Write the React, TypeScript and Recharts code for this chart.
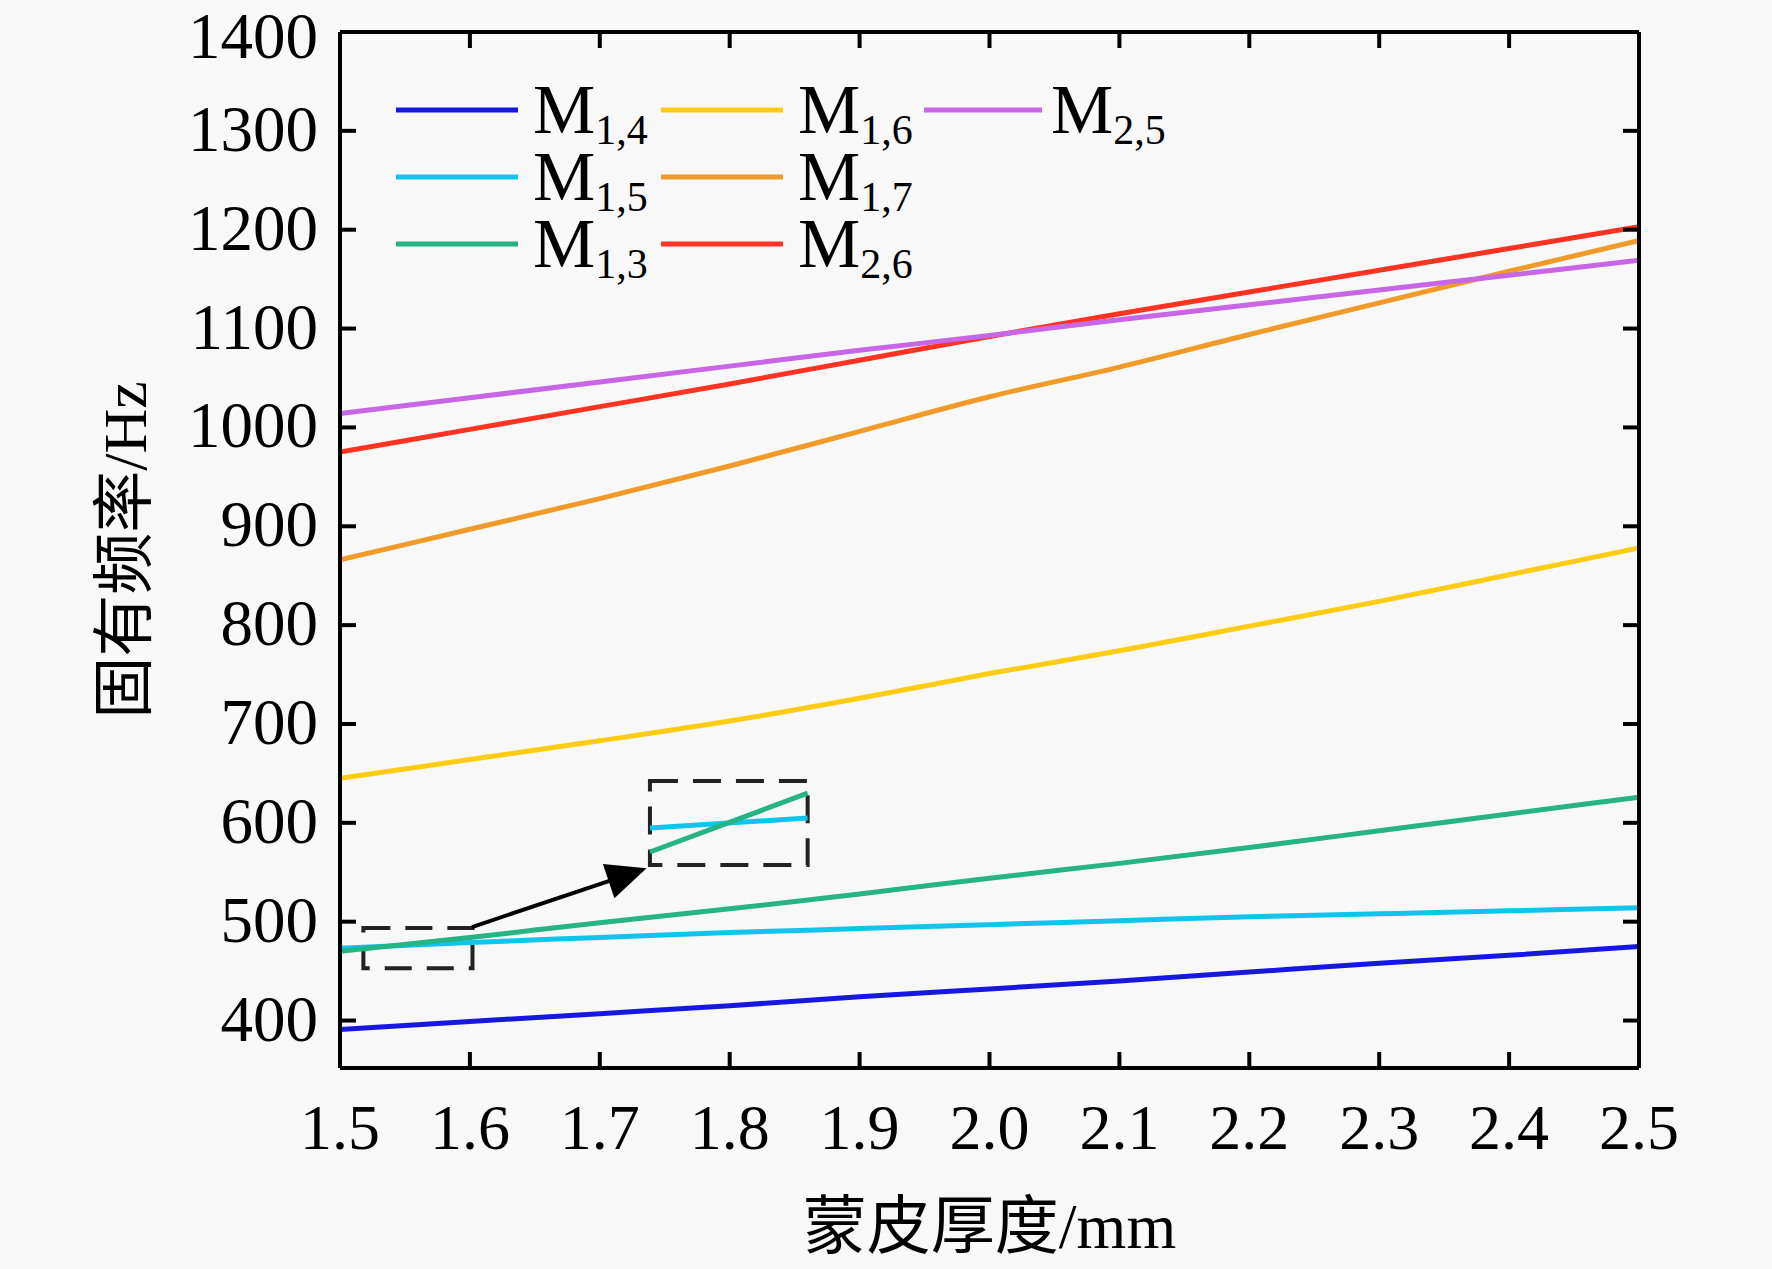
import React from 'react';
import { LineChart, Line, XAxis, YAxis, ReferenceArea, ReferenceLine, Legend } from 'recharts';

const thickness = [1.5, 1.6, 1.7, 1.8, 1.9, 2.0, 2.1, 2.2, 2.3, 2.4, 2.5];
const m14 = [391, 399, 407, 415, 424, 432, 440, 449, 458, 466, 475];
const m15 = [473, 479, 484, 489, 493, 497, 501, 505, 508, 511, 514];
const m13 = [470, 484, 499, 513, 528, 544, 559, 575, 592, 609, 626];
const m16 = [645, 664, 683, 703, 726, 751, 774, 799, 824, 851, 878];
const m17 = [866, 897, 928, 961, 996, 1031, 1061, 1094, 1126, 1158, 1189];
const m26 = [975, 998, 1021, 1044, 1068, 1092, 1115, 1137, 1159, 1181, 1203];
const m25 = [1014, 1030, 1046, 1062, 1078, 1093, 1109, 1124, 1139, 1154, 1169];

const xTicks = [1.5, 1.6, 1.7, 1.8, 1.9, 2.0, 2.1, 2.2, 2.3, 2.4, 2.5];
const xInnerTicks = [1.6, 1.7, 1.8, 1.9, 2.0, 2.1, 2.2, 2.3, 2.4];
const yTicks = [400, 500, 600, 700, 800, 900, 1000, 1100, 1200, 1300, 1400];
const yInnerTicks = [400, 500, 600, 700, 800, 900, 1000, 1100, 1200, 1300];

// zoom annotation
const smallBoxX = [1.518, 1.602];
const smallBoxY = [453, 493.6];
const bigBoxX = [1.7386, 1.86];
const bigBoxY = [557.3, 642.3];
const arrowX = [1.6016, 1.736];
const arrowY = [494.6, 554];
const insetX = [1.7386, 1.86];
const insetCyan = [594.7, 604.9];
const insetGreen = [570.5, 630];

const seriesKeys = ['m14', 'm15', 'm13', 'm16', 'm17', 'm26', 'm25'];
const seriesSubs = ['1,4', '1,5', '1,3', '1,6', '1,7', '2,6', '2,5'];
const seriesColors = ['#1717e0', '#10c4ec', '#26b386', '#ffcc14', '#f09a2a', '#ff3322', '#c866e6'];
const seriesValues = [m14, m15, m13, m16, m17, m26, m25];

const data = thickness.map((t, i) => {
  const row: any = { t };
  seriesKeys.forEach((k, j) => {
    row[k] = seriesValues[j][i];
  });
  return row;
});

const insetCyanData = insetX.map((x, i) => ({ t: x, v: insetCyan[i] }));
const insetGreenData = insetX.map((x, i) => ({ t: x, v: insetGreen[i] }));

const FONT = '"Liberation Serif", "Times New Roman", "Noto Sans CJK SC", serif';

const EmptyTick = () => <g />;

const ArrowShape = (props: any) => {
  const { x1, y1, x2, y2 } = props;
  const dx = x2 - x1;
  const dy = y2 - y1;
  const len = Math.sqrt(dx * dx + dy * dy) || 1;
  const ux = dx / len;
  const uy = dy / len;
  const headLen = 40;
  const halfW = 18;
  const bx = x2 - ux * headLen;
  const by = y2 - uy * headLen;
  const px = -uy;
  const py = ux;
  const pts = `${x2},${y2} ${bx + px * halfW},${by + py * halfW} ${bx - px * halfW},${by - py * halfW}`;
  return (
    <g>
      <line x1={x1} y1={y1} x2={bx + ux * 4} y2={by + uy * 4} stroke="#000" strokeWidth={4} />
      <polygon points={pts} fill="#000" />
    </g>
  );
};

const LegendContent = (props: any) => {
  const payload = props.payload || [];
  const ordered = seriesSubs
    .map((s) => payload.find((p: any) => p.value === `M${s}`))
    .filter(Boolean);
  return (
    <div
      style={{
        display: 'grid',
        gridTemplateRows: 'repeat(3, 67px)',
        gridTemplateColumns: '265px 263px 320px',
        gridAutoFlow: 'column',
        fontFamily: FONT,
      }}
    >
      {ordered.map((p: any, idx: number) => (
        <div key={p.value} style={{ display: 'flex', alignItems: 'center', height: 67 }}>
          <svg
            width={idx === 6 ? 118 : 122}
            height={10}
            style={{ marginRight: idx === 6 ? 9 : 15, display: 'block', flexShrink: 0 }}
          >
            <line x1={0} y1={5} x2={122} y2={5} stroke={p.color} strokeWidth={5} />
          </svg>
          <span style={{ fontSize: 70, lineHeight: '70px', color: '#000', whiteSpace: 'nowrap', flexShrink: 0 }}>
            M
            <span style={{ fontSize: 42, lineHeight: '42px', position: 'relative', top: 11 }}>
              {String(p.value).slice(1)}
            </span>
          </span>
        </div>
      ))}
    </div>
  );
};

const XTitle = (props: any) => {
  const vb = props.viewBox || { x: 340, y: 1068, width: 1299, height: 100 };
  return (
    <text x={vb.x + vb.width / 2} y={vb.y + 180} textAnchor="middle" fontSize={64} fontFamily={FONT} fill="#000">
      蒙皮厚度/mm
    </text>
  );
};

const YTitle = (props: any) => {
  const vb = props.viewBox || { x: 0, y: 32, width: 340, height: 1036 };
  const cx = vb.x + 125;
  const cy = vb.y + vb.height / 2;
  return (
    <text
      x={cx}
      y={cy}
      transform={`rotate(-90 ${cx} ${cy})`}
      textAnchor="middle"
      dominantBaseline="central"
      fontSize={62}
      fontFamily={FONT}
      fill="#000"
    >
      固有频率/Hz
    </text>
  );
};

const axisLine = { stroke: '#000', strokeWidth: 4 };
const tickLine = { stroke: '#000', strokeWidth: 4 };
const yDomain = [352, 1400];
const xDomain = [1.5, 2.5];

export default function App() {
  return (
    <div style={{ position: 'absolute', left: 0, top: 0, width: 1772, height: 1269, background: '#f8f8f8' }}>
      <LineChart
        width={1772}
        height={1269}
        data={data}
        margin={{ top: 32, right: 133, bottom: 101, left: 0 }}
        style={{ fontFamily: FONT }}
      >
        <XAxis
          xAxisId={0}
          dataKey="t"
          type="number"
          domain={xDomain}
          ticks={xTicks}
          allowDataOverflow
          height={100}
          tickSize={0}
          tickMargin={36}
          tickLine={false}
          axisLine={axisLine}
          tick={{ fontSize: 64, fill: '#000', fontFamily: FONT }}
          tickFormatter={(v: number) => v.toFixed(1)}
          label={{ content: XTitle }}
        />
        <XAxis
          xAxisId="bm"
          dataKey="t"
          type="number"
          domain={xDomain}
          ticks={xInnerTicks}
          allowDataOverflow
          mirror
          orientation="bottom"
          tick={EmptyTick}
          tickSize={16}
          tickLine={tickLine}
          axisLine={false}
        />
        <XAxis
          xAxisId="top"
          dataKey="t"
          type="number"
          domain={xDomain}
          ticks={xInnerTicks}
          allowDataOverflow
          mirror
          orientation="top"
          tick={EmptyTick}
          tickSize={16}
          tickLine={tickLine}
          axisLine={axisLine}
        />
        <YAxis
          yAxisId={0}
          type="number"
          domain={yDomain}
          ticks={yTicks}
          allowDataOverflow
          width={340}
          tickSize={0}
          tickMargin={22}
          tickLine={false}
          axisLine={axisLine}
          tick={{ fontSize: 65, fill: '#000', fontFamily: FONT, dy: -3 }}
          label={{ content: YTitle }}
        />
        <YAxis
          yAxisId="lm"
          type="number"
          domain={yDomain}
          ticks={yInnerTicks}
          allowDataOverflow
          mirror
          orientation="left"
          tick={EmptyTick}
          tickSize={16}
          tickLine={tickLine}
          axisLine={false}
        />
        <YAxis
          yAxisId="right"
          type="number"
          domain={yDomain}
          ticks={yInnerTicks}
          allowDataOverflow
          mirror
          orientation="right"
          tick={EmptyTick}
          tickSize={16}
          tickLine={tickLine}
          axisLine={axisLine}
        />
        <Legend
          layout="vertical"
          align="center"
          verticalAlign="middle"
          content={LegendContent}
          wrapperStyle={{ left: 396, top: 76, width: 860, height: 210 }}
        />
        {seriesKeys.map((k, j) => (
          <Line
            key={k}
            xAxisId={0}
            yAxisId={0}
            type="monotone"
            dataKey={k}
            name={`M${seriesSubs[j]}`}
            stroke={seriesColors[j]}
            strokeWidth={5}
            dot={false}
            activeDot={false}
            isAnimationActive={false}
          />
        ))}
        <ReferenceArea
          xAxisId={0}
          yAxisId={0}
          x1={smallBoxX[0]}
          x2={smallBoxX[1]}
          y1={smallBoxY[0]}
          y2={smallBoxY[1]}
          fill="none"
          fillOpacity={0}
          stroke="#222"
          strokeWidth={4}
          strokeDasharray="27 15"
        />
        <ReferenceArea
          xAxisId={0}
          yAxisId={0}
          x1={bigBoxX[0]}
          x2={bigBoxX[1]}
          y1={bigBoxY[0]}
          y2={bigBoxY[1]}
          fill="none"
          fillOpacity={0}
          stroke="#222"
          strokeWidth={4}
          strokeDasharray="28 15"
        />
        <Line
          xAxisId={0}
          yAxisId={0}
          data={insetCyanData}
          dataKey="v"
          type="linear"
          stroke={seriesColors[1]}
          strokeWidth={5}
          dot={false}
          activeDot={false}
          legendType="none"
          isAnimationActive={false}
        />
        <Line
          xAxisId={0}
          yAxisId={0}
          data={insetGreenData}
          dataKey="v"
          type="linear"
          stroke={seriesColors[2]}
          strokeWidth={5}
          dot={false}
          activeDot={false}
          legendType="none"
          isAnimationActive={false}
        />
        <ReferenceLine
          xAxisId={0}
          yAxisId={0}
          segment={[
            { x: arrowX[0], y: arrowY[0] },
            { x: arrowX[1], y: arrowY[1] },
          ]}
          stroke="#000"
          strokeWidth={4}
          shape={ArrowShape}
        />
      </LineChart>
    </div>
  );
}
